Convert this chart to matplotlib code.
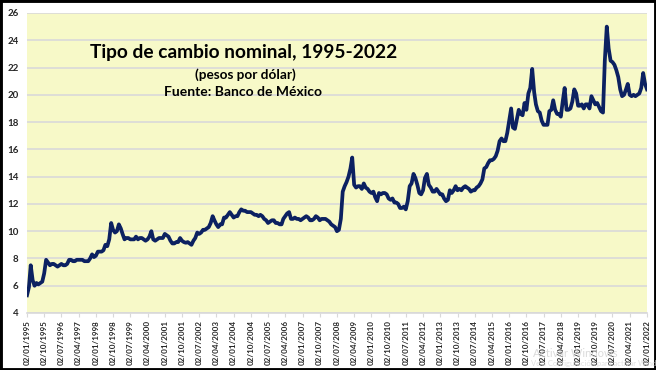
import pandas as pd
import numpy as np
import matplotlib
matplotlib.use('Agg')
import matplotlib.pyplot as plt
from matplotlib.patches import Rectangle

plt.rcParams['font.family'] = ['Lato', 'DejaVu Sans']

# tipo de cambio mensual (pesos por dolar), ene-1995 a ene-2022
tc_1995 = [5.3, 5.9, 7.5, 6.4, 6.0, 6.2, 6.1, 6.2, 6.3, 6.9, 7.9, 7.7]
tc_1996 = [7.5, 7.6, 7.6, 7.5, 7.4, 7.5, 7.6, 7.5, 7.5, 7.6, 7.9, 7.9]
tc_1997 = [7.8, 7.8, 7.9, 7.9, 7.9, 7.9, 7.8, 7.8, 7.8, 8.0, 8.3, 8.1]
tc_1998 = [8.2, 8.5, 8.5, 8.5, 8.6, 9.0, 8.9, 9.4, 10.6, 10.1, 9.9, 10.0]
tc_1999 = [10.5, 10.2, 9.8, 9.4, 9.5, 9.5, 9.4, 9.4, 9.4, 9.6, 9.4, 9.5]
tc_2000 = [9.5, 9.4, 9.3, 9.4, 9.6, 10.0, 9.4, 9.3, 9.4, 9.5, 9.5, 9.5]
tc_2001 = [9.8, 9.7, 9.6, 9.3, 9.1, 9.1, 9.2, 9.2, 9.5, 9.3, 9.2, 9.15]
tc_2002 = [9.2, 9.1, 9.0, 9.3, 9.5, 9.9, 9.8, 9.9, 10.1, 10.1, 10.2, 10.3]
tc_2003 = [10.6, 11.1, 10.8, 10.5, 10.3, 10.5, 10.5, 11.0, 11.0, 11.2, 11.4, 11.2]
tc_2004 = [11.0, 11.1, 11.1, 11.4, 11.6, 11.5, 11.5, 11.4, 11.4, 11.4, 11.3, 11.2]
tc_2005 = [11.2, 11.1, 11.2, 11.1, 10.9, 10.8, 10.6, 10.7, 10.8, 10.8, 10.6, 10.6]
tc_2006 = [10.5, 10.5, 10.9, 11.1, 11.3, 11.4, 10.9, 10.9, 11.0, 10.9, 10.9, 10.8]
tc_2007 = [10.9, 11.0, 11.1, 11.0, 10.8, 10.8, 10.9, 11.1, 11.0, 10.8, 10.9, 10.9]
tc_2008 = [10.9, 10.8, 10.7, 10.5, 10.4, 10.3, 10.0, 10.1, 10.9, 12.9, 13.3, 13.6]
tc_2009 = [14.0, 14.6, 15.4, 13.4, 13.2, 13.3, 13.3, 13.1, 13.5, 13.2, 13.1, 12.9]
tc_2010 = [12.8, 12.9, 12.5, 12.2, 12.8, 12.7, 12.8, 12.8, 12.7, 12.4, 12.3, 12.4]
tc_2011 = [12.1, 12.1, 12.0, 11.7, 11.7, 11.8, 11.6, 12.2, 13.3, 13.5, 14.2, 13.9]
tc_2012 = [13.4, 12.8, 12.7, 13.0, 13.9, 14.2, 13.4, 13.2, 12.9, 12.9, 13.1, 12.9]
tc_2013 = [12.7, 12.7, 12.4, 12.2, 12.3, 13.0, 12.8, 13.0, 13.3, 13.0, 13.1, 13.0]
tc_2014 = [13.2, 13.3, 13.2, 13.1, 12.9, 13.0, 13.0, 13.2, 13.3, 13.5, 13.8, 14.6]
tc_2015 = [14.7, 15.0, 15.2, 15.2, 15.3, 15.5, 15.9, 16.6, 16.8, 16.6, 16.6, 17.2]
tc_2016 = [18.1, 19.0, 17.6, 17.5, 18.2, 18.9, 18.6, 18.5, 19.4, 18.9, 20.1, 20.5]
tc_2017 = [21.9, 20.2, 19.3, 18.8, 18.7, 18.1, 17.8, 17.8, 17.8, 18.8, 18.9, 19.6]
tc_2018 = [18.9, 18.6, 18.6, 18.4, 19.5, 20.5, 18.9, 18.9, 19.0, 19.5, 20.4, 20.1]
tc_2019 = [19.2, 19.2, 19.3, 19.0, 19.3, 19.3, 19.0, 19.9, 19.6, 19.3, 19.4, 19.1]
tc_2020 = [18.8, 18.7, 22.5, 25.0, 23.4, 22.5, 22.4, 22.2, 21.8, 21.3, 20.4, 19.9]
tc_2021 = [20.0, 20.4, 20.8, 20.0, 19.9, 20.0, 19.9, 20.0, 20.1, 20.5, 21.6, 20.8]
tc_2022 = [20.4]

tc = (tc_1995 + tc_1996 + tc_1997 + tc_1998 + tc_1999 + tc_2000 + tc_2001
      + tc_2002 + tc_2003 + tc_2004 + tc_2005 + tc_2006 + tc_2007 + tc_2008
      + tc_2009 + tc_2010 + tc_2011 + tc_2012 + tc_2013 + tc_2014 + tc_2015
      + tc_2016 + tc_2017 + tc_2018 + tc_2019 + tc_2020 + tc_2021 + tc_2022)
fechas = pd.date_range('1995-01-01', periods=len(tc), freq='MS') + pd.Timedelta(days=1)

# etiquetas del eje x: cada 9 meses desde 02/01/1995
ticks_x = [pd.Timestamp(1995, 1, 2) + pd.DateOffset(months=9 * i) for i in range(37)]
etiquetas_x = [t.strftime('%d/%m/%Y') for t in ticks_x]
ticks_y = np.arange(4, 27, 2)

fig = plt.figure(figsize=(6.56, 3.70), dpi=100)
fig.patch.set_facecolor('white')
ax = fig.add_axes([27 / 656, 57 / 370, 620 / 656, 300 / 370])
ax.set_facecolor('#F7F9C8')

ax.plot(fechas, tc, color='#0C2161', lw=2.7, solid_joinstyle='round')

ax.set_xlim(ticks_x[0], ticks_x[-1])
ax.set_ylim(4, 26)
ax.set_yticks(ticks_y)
ax.set_xticks(ticks_x)
ax.set_xticklabels(etiquetas_x, rotation=90, fontsize=5.8, fontweight='bold', color='#262626')
for lab in ax.get_yticklabels():
    lab.set_fontsize(7)
    lab.set_fontweight('bold')
    lab.set_color('#262626')

ax.grid(axis='y', color='#D9D9D9', lw=1.2)
ax.set_axisbelow(True)
for s in ['top', 'right', 'left']:
    ax.spines[s].set_visible(False)
ax.spines['bottom'].set_color('#D9D9D9')
ax.spines['bottom'].set_linewidth(1.2)
ax.tick_params(axis='y', length=0, pad=6)
ax.tick_params(axis='x', length=3, color='#D9D9D9', pad=2)

ax.text(0.35, 0.868, 'Tipo de cambio nominal, 1995-2022', transform=ax.transAxes,
        ha='center', va='center', fontsize=13.8, fontweight='bold', color='black')
ax.text(0.352, 0.793, '(pesos por dólar)', transform=ax.transAxes,
        ha='center', va='center', fontsize=9.8, fontweight='bold', color='black')
ax.text(0.349, 0.737, 'Fuente: Banco de México', transform=ax.transAxes,
        ha='center', va='center', fontsize=10, fontweight='bold', color='black')

# marca de agua de la captura
fig.text(0.813, 0.035, 'Activar Windows', fontsize=8, color='#D2D2D2', alpha=0.8)
fig.text(0.81, 0.012, 'Ve a Configuración para activar Windows.', fontsize=5.5,
         color='#D8D8D8', alpha=0.8)

fig.patches.append(Rectangle((0, 0), 1, 1, transform=fig.transFigure, fill=False,
                             edgecolor='black', lw=3.5))

fig.savefig('out.png', dpi=100)
